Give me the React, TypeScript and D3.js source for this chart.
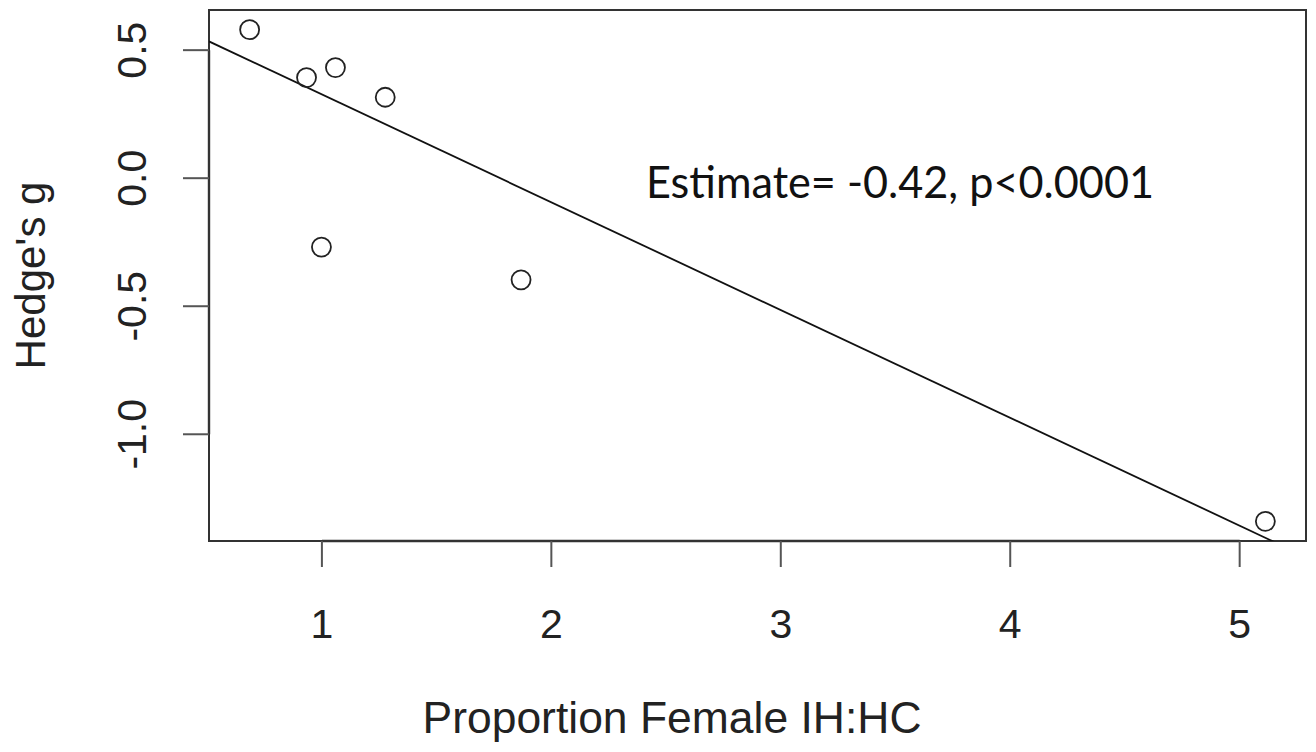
import React from 'react'
import * as d3 from 'd3'

// points
const proportionFemale = [0.685, 0.933, 1.059, 1.276, 0.998, 1.868, 5.112]
const hedgesG = [0.58, 0.393, 0.432, 0.316, -0.269, -0.397, -1.34]
const xTicks = [1, 2, 3, 4, 5]
const yTicks = [0.5, 0.0, -0.5, -1.0]
const yTickLabels = ['0.5', '0.0', '-0.5', '-1.0']
// fitted line (intercept, slope)
const fitLine = [0.748, -0.421]
const annotation = 'Estimate= -0.42, p<0.0001'

export default function App() {
    const width = 1316
    const height = 752
    const left = 209, right = 1306, top = 10, bottom = 541

    // R style 4% padding around the data range
    const xExt = d3.extent(proportionFemale) as [number, number]
    const yExt = d3.extent(hedgesG) as [number, number]
    const xPad = (xExt[1] - xExt[0]) * 0.04
    const yPad = (yExt[1] - yExt[0]) * 0.04

    const xScale = d3.scaleLinear()
        .domain([xExt[0] - xPad, xExt[1] + xPad])
        .range([left, right])
    const yScale = d3.scaleLinear()
        .domain([yExt[0] - yPad, yExt[1] + yPad])
        .range([bottom, top])

    const [b0, b1] = fitLine
    const xd = xScale.domain()
    const line = d3.line<number>()
        .x(d => xScale(d))
        .y(d => yScale(b0 + b1 * d))

    const axisFont = '"Liberation Sans", Arial, sans-serif'
    const fs = 41

    return (
        <svg width={width} height={height} style={{ position: 'absolute', left: 0, top: 0, background: '#fff' }}>
            <defs>
                <clipPath id="plotArea">
                    <rect x={left} y={top} width={right - left} height={bottom - top} />
                </clipPath>
            </defs>

            {/* box */}
            <rect x={left} y={top} width={right - left} height={bottom - top}
                fill="none" stroke="#333" strokeWidth={2} />

            {/* x axis */}
            <line x1={xScale(xTicks[0])} x2={xScale(xTicks[xTicks.length - 1])} y1={bottom} y2={bottom}
                stroke="#333" strokeWidth={2.4} />
            {xTicks.map(t => (
                <g key={t}>
                    <line x1={xScale(t)} x2={xScale(t)} y1={bottom} y2={bottom + 26} stroke="#555" strokeWidth={2} />
                    <text x={xScale(t)} y={638} textAnchor="middle" fontFamily={axisFont} fontSize={fs} fill="#222">{t}</text>
                </g>
            ))}

            {/* y axis */}
            <line x1={left} x2={left} y1={yScale(yTicks[0])} y2={yScale(yTicks[yTicks.length - 1])}
                stroke="#333" strokeWidth={2.4} />
            {yTicks.map((t, i) => (
                <g key={t}>
                    <line x1={left - 26} x2={left} y1={yScale(t)} y2={yScale(t)} stroke="#555" strokeWidth={2} />
                    <text transform={`translate(146,${yScale(t)}) rotate(-90)`} textAnchor="middle"
                        fontFamily={axisFont} fontSize={fs} fill="#222">{yTickLabels[i]}</text>
                </g>
            ))}

            {/* regression line */}
            <path d={line([xd[0], xd[1]]) ?? ''} clipPath="url(#plotArea)" fill="none" stroke="#111" strokeWidth={1.8} />

            {/* points */}
            {proportionFemale.map((x, i) => (
                <circle key={i} cx={xScale(x)} cy={yScale(hedgesG[i])} r={9.5}
                    fill="none" stroke="#222" strokeWidth={1.8} />
            ))}

            <text x={646} y={198} fontFamily="Lato, 'Open Sans', sans-serif" fontSize={45}
                textLength={508} lengthAdjust="spacingAndGlyphs" fill="#111">{annotation}</text>

            {/* axis titles */}
            <text x={672} y={733} textAnchor="middle" fontFamily={axisFont} fontSize={44}
                textLength={499} lengthAdjust="spacingAndGlyphs" fill="#222">
                Proportion Female IH:HC
            </text>
            <text transform={`translate(45,${(top + bottom) / 2}) rotate(-90)`} textAnchor="middle"
                fontFamily={axisFont} fontSize={42} fill="#222">Hedge's g</text>
        </svg>
    )
}
